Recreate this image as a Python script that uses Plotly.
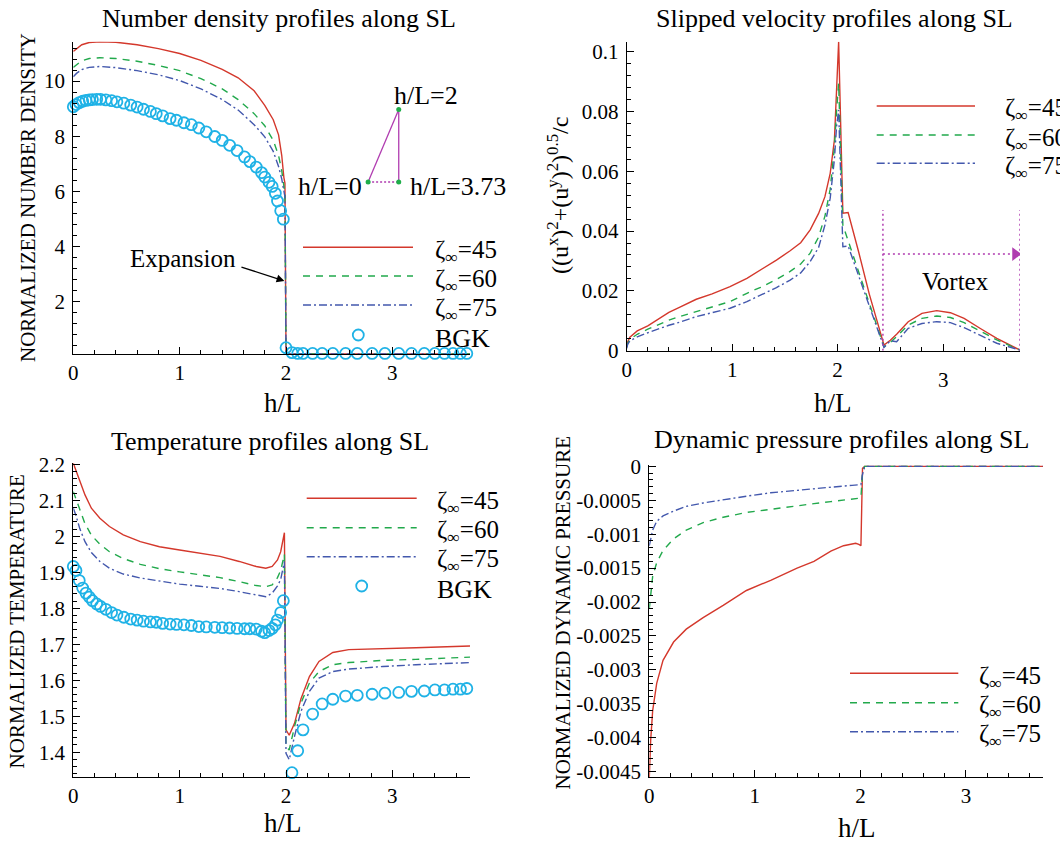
import plotly.graph_objects as go

W, H = 1060, 842
FONT = "Liberation Serif"

RED = "#d4382c"
GREEN = "#22a94c"
BLUE = "#4358ad"
CYAN = "#1fb2e6"
PURPLE = "#b03cb0"
DOT_GREEN = "#1fae4a"

# ---------------- data ----------------
labels = ["45", "60", "75"]

# number density along SL
dens_x = [0, 0.03, 0.08, 0.15, 0.25, 0.4, 0.6, 0.8, 1.0, 1.2, 1.4, 1.55, 1.7, 1.8,
          1.88, 1.93, 1.96, 1.98, 1.99, 2.0, 3.73]
dens_45 = [11.08, 11.17, 11.32, 11.40, 11.43, 11.41, 11.32, 11.18, 11.0, 10.75, 10.43,
           10.12, 9.65, 9.12, 8.6, 8.05, 7.3, 6.5, 6.3, 0.1, 0.1]
dens_60 = [10.5, 10.6, 10.74, 10.82, 10.85, 10.82, 10.72, 10.57, 10.38, 10.09, 9.72,
           9.33, 8.82, 8.38, 7.85, 7.3, 6.75, 6.2, 5.9, 0.1, 0.1]
dens_75 = [10.16, 10.28, 10.42, 10.5, 10.53, 10.49, 10.38, 10.23, 10.02, 9.72, 9.33,
           8.95, 8.42, 7.98, 7.45, 6.9, 6.45, 6.05, 5.8, 0.1, 0.1]

# BGK reference points (shared abscissae for density and temperature)
bgk_x = [0, 0.025, 0.056, 0.088, 0.119, 0.15, 0.18, 0.22, 0.256, 0.306, 0.36, 0.41,
         0.475, 0.54, 0.60, 0.66, 0.725, 0.78, 0.84, 0.91, 0.97, 1.04, 1.11, 1.18, 1.25,
         1.33, 1.40, 1.47, 1.54, 1.61, 1.66, 1.72, 1.77, 1.80, 1.84, 1.87, 1.90, 1.92,
         1.95, 1.975, 2.0, 2.056, 2.11, 2.16, 2.25, 2.34, 2.44, 2.56, 2.67, 2.81, 2.93,
         3.06, 3.18, 3.30, 3.40, 3.49, 3.57, 3.64, 3.70]
bgk_dens = [9.07, 9.15, 9.22, 9.27, 9.30, 9.32, 9.33, 9.34, 9.34, 9.32, 9.29, 9.25,
            9.20, 9.13, 9.06, 8.98, 8.90, 8.82, 8.74, 8.64, 8.58, 8.49, 8.42, 8.30, 8.16,
            7.99, 7.85, 7.67, 7.48, 7.25, 7.08, 6.88, 6.68, 6.52, 6.33, 6.18, 5.93, 5.65,
            5.3, 4.99, 0.33, 0.15, 0.12, 0.12, 0.12, 0.12, 0.12, 0.12, 0.12, 0.12, 0.12,
            0.12, 0.12, 0.12, 0.12, 0.12, 0.12, 0.12, 0.12]
bgk_temp = [1.916, 1.905, 1.877, 1.856, 1.842, 1.831, 1.821, 1.812, 1.805, 1.797, 1.788,
            1.781, 1.775, 1.770, 1.767, 1.764, 1.762, 1.761, 1.758, 1.756, 1.755, 1.754,
            1.752, 1.749, 1.748, 1.747, 1.746, 1.745, 1.744, 1.743, 1.743, 1.742, 1.736,
            1.732, 1.738, 1.744, 1.754, 1.767, 1.788, 1.821, 1.33, 1.343, 1.404, 1.462,
            1.506, 1.534, 1.547, 1.556, 1.558, 1.561, 1.564, 1.566, 1.569, 1.570, 1.573,
            1.573, 1.575, 1.575, 1.577]

# slip velocity magnitude along SL
vel_x = [0, 0.01, 0.03, 0.1, 0.2, 0.3, 0.4, 0.5, 0.66, 0.81, 0.98, 1.14, 1.27, 1.42,
         1.55, 1.65, 1.74, 1.82, 1.88, 1.93, 1.97, 1.99, 2.01, 2.05, 2.1, 2.2, 2.3, 2.44,
         2.5, 2.56, 2.67, 2.8, 2.94, 3.07, 3.2, 3.35, 3.51, 3.73]
vel_45 = [0.0015, 0.003, 0.0045, 0.0066, 0.0083, 0.0105, 0.0128, 0.0145, 0.0172, 0.019,
          0.0214, 0.0242, 0.027, 0.0303, 0.0334, 0.0361, 0.0404, 0.0459, 0.0515, 0.0593,
          0.0705, 0.085, 0.1033, 0.046, 0.0462, 0.033, 0.019, 0.0019, 0.0035, 0.0055,
          0.0097, 0.0125, 0.0134, 0.0127, 0.0108, 0.0075, 0.0041, 0.0002]
vel_60 = [0.0012, 0.0025, 0.0038, 0.0055, 0.0072, 0.0088, 0.0102, 0.0114, 0.013, 0.0147,
          0.0164, 0.0192, 0.0212, 0.0238, 0.0265, 0.029, 0.0326, 0.038, 0.045, 0.054,
          0.068, 0.08, 0.0894, 0.042, 0.0368, 0.0264, 0.016, 0.0013, 0.0028, 0.0047,
          0.0086, 0.0108, 0.0116, 0.0111, 0.0094, 0.0066, 0.0036, 0.0002]
vel_75 = [0.0008, 0.0022, 0.0033, 0.0046, 0.006, 0.0073, 0.0085, 0.0095, 0.0114, 0.0127,
          0.0142, 0.0164, 0.0186, 0.0211, 0.0236, 0.026, 0.0298, 0.0345, 0.042, 0.051,
          0.064, 0.0749, 0.0805, 0.0348, 0.035, 0.025, 0.015, 0.0011, 0.0033, 0.003,
          0.0075, 0.0091, 0.0097, 0.0094, 0.0077, 0.0052, 0.0025, 0.0002]

# temperature along SL
temp_x = [0, 0.025, 0.06, 0.11, 0.17, 0.25, 0.34, 0.47, 0.63, 0.81, 1.0, 1.19, 1.38,
          1.56, 1.72, 1.81, 1.87, 1.92, 1.95, 1.985, 2.0, 2.03, 2.08, 2.14, 2.22, 2.31,
          2.44, 2.59, 2.91, 3.22, 3.73]
temp_45 = [2.203, 2.184, 2.152, 2.115, 2.078, 2.05, 2.027, 2.004, 1.985, 1.971, 1.962,
           1.953, 1.944, 1.93, 1.916, 1.911, 1.916, 1.934, 1.957, 2.01, 1.462, 1.447,
           1.48, 1.548, 1.61, 1.652, 1.677, 1.685, 1.687, 1.690, 1.695]
temp_60 = [2.124, 2.104, 2.072, 2.035, 2.003, 1.978, 1.957, 1.938, 1.922, 1.91, 1.901,
           1.893, 1.885, 1.874, 1.863, 1.86, 1.865, 1.885, 1.905, 1.95, 1.416, 1.406,
           1.471, 1.536, 1.592, 1.624, 1.643, 1.649, 1.655, 1.658, 1.664]
temp_75 = [2.078, 2.058, 2.022, 1.985, 1.955, 1.93, 1.911, 1.895, 1.884, 1.875, 1.867,
           1.861, 1.855, 1.846, 1.836, 1.832, 1.842, 1.862, 1.88, 1.93, 1.397, 1.379,
           1.444, 1.513, 1.569, 1.606, 1.624, 1.631, 1.638, 1.643, 1.649]

# dynamic pressure along SL
pres_x = [0, 0.013, 0.032, 0.07, 0.13, 0.23, 0.35, 0.51, 0.7, 0.92, 1.15, 1.4, 1.56,
          1.72, 1.84, 1.92, 1.955, 1.985, 2.005, 2.02, 2.04, 3.73]
pres_45 = [-0.00458, -0.00404, -0.0036, -0.0032, -0.00286, -0.00259, -0.0024, -0.00223,
           -0.00205, -0.00183, -0.00168, -0.0015, -0.0014, -0.00125, -0.00117, -0.00114,
           -0.001134, -0.00115, -0.00117, -0.00003, 0, 0]
pres_60 = [-0.0021, -0.00185, -0.00162, -0.00142, -0.00124, -0.00107, -0.00094, -0.00083,
           -0.00075, -0.00068, -0.00063, -0.00058, -0.00055, -0.00052, -0.0005, -0.00048,
           -0.00047, -0.00047, -0.00046, -0.0001, 0, 0]
pres_75 = [-0.00117, -0.00105, -0.00094, -0.00081, -0.00073, -0.00066, -0.00059, -0.00054,
           -0.00049, -0.00044, -0.00039, -0.00035, -0.00033, -0.0003, -0.00029, -0.00028,
           -0.00028, -0.00027, -0.00027, -0.00012, 0, 0]

# tick labels
x_ticks = [0, 1, 2, 3]
dens_ticks = [2, 4, 6, 8, 10]
vel_ticks = [0, 0.02, 0.04, 0.06, 0.08, 0.1]
vel_tick_text = ["0", "0.02", "0.04", "0.06", "0.08", "0.1"]
temp_ticks = [1.4, 1.5, 1.6, 1.7, 1.8, 1.9, 2.0, 2.1, 2.2]
temp_tick_text = ["1.4", "1.5", "1.6", "1.7", "1.8", "1.9", "2", "2.1", "2.2"]
pres_ticks = [0, -0.0005, -0.001, -0.0015, -0.002, -0.0025, -0.003, -0.0035, -0.004, -0.0045]
pres_tick_text = ["0", "-0.0005", "-0.001", "-0.0015", "-0.002", "-0.0025", "-0.003",
                  "-0.0035", "-0.004", "-0.0045"]

# sketch of the SL path (h/L = 0 -> 2 -> 3.73)
sketch_x = [2.772, 3.06, 3.06]
sketch_y = [6.34, 8.97, 6.34]

# ---------------- helpers ----------------
def xp(p):
    return p / W


def yp(p):
    return 1 - p / H


STYLES = [dict(color=RED, width=1.4, dash="solid"),
          dict(color=GREEN, width=1.4, dash="7px,6px"),
          dict(color=BLUE, width=1.4, dash="8px,3px,2px,3px")]

tick_font = dict(family=FONT, size=21, color="black")


def base_axis(**kw):
    d = dict(showline=True, linecolor="black", linewidth=1, showgrid=False,
             zeroline=False, ticks="inside", ticklen=7, tickwidth=1, tickcolor="black",
             tickfont=tick_font, automargin=False)
    d.update(kw)
    return d


def x_axis(x0, x1, anchor, ticktext=None):
    return base_axis(domain=[xp(x0), xp(x1)], anchor=anchor, range=[0, 3.73],
                     tickvals=x_ticks, ticktext=ticktext or [str(v) for v in x_ticks],
                     minor=dict(ticks="inside", ticklen=4, tickcolor="black",
                                tick0=0, dtick=0.2, showgrid=False))


def y_axis(y_top, y_bot, anchor, rng, vals, text, minor_dtick):
    return base_axis(domain=[yp(y_bot), yp(y_top)], anchor=anchor, range=rng,
                     tickvals=vals, ticktext=text, ticklabelstandoff=3,
                     minor=dict(ticks="inside", ticklen=4, tickcolor="black",
                                tick0=0, dtick=minor_dtick, showgrid=False))


fig = go.Figure()

panels = [
    ("x", "y", dens_x, [dens_45, dens_60, dens_75]),
    ("x2", "y2", vel_x, [vel_45, vel_60, vel_75]),
    ("x3", "y3", temp_x, [temp_45, temp_60, temp_75]),
    ("x4", "y4", pres_x, [pres_45, pres_60, pres_75]),
]
for xa, ya, xs, series in panels:
    for ys, st in zip(series, STYLES):
        fig.add_trace(go.Scatter(x=xs, y=ys, mode="lines", line=st, xaxis=xa, yaxis=ya,
                                 showlegend=False, hoverinfo="skip"))

bgk_marker = dict(symbol="circle-open", size=11, color=CYAN, line=dict(width=1.8, color=CYAN))
fig.add_trace(go.Scatter(x=bgk_x, y=bgk_dens, mode="markers", marker=bgk_marker,
                         xaxis="x", yaxis="y", showlegend=False, hoverinfo="skip",
                         cliponaxis=False))
fig.add_trace(go.Scatter(x=bgk_x, y=bgk_temp, mode="markers", marker=bgk_marker,
                         xaxis="x3", yaxis="y3", showlegend=False, hoverinfo="skip",
                         cliponaxis=False))

# vertices of the SL sketch
fig.add_trace(go.Scatter(x=sketch_x, y=sketch_y, mode="markers",
                         marker=dict(size=5, color=DOT_GREEN), xaxis="x", yaxis="y",
                         showlegend=False, hoverinfo="skip"))
# arrow head of the vortex span
fig.add_trace(go.Scatter(x=[3.685], y=[0.0323], mode="markers",
                         marker=dict(symbol="triangle-right", size=12, color=PURPLE),
                         xaxis="x2", yaxis="y2", showlegend=False, hoverinfo="skip"))

shapes = []
annotations = []


def text(x, y, s, size=24, xref="paper", yref="paper", xanchor="center", angle=0,
         yanchor="middle"):
    annotations.append(dict(x=x, y=y, xref=xref, yref=yref, text=s, showarrow=False,
                            xanchor=xanchor, yanchor=yanchor, textangle=angle,
                            font=dict(family=FONT, size=size, color="black")))


# titles
text(xp(279), yp(18.5), "Number density profiles along SL", size=26)
text(xp(834), yp(18.5), "Slipped velocity profiles along SL", size=26)
text(xp(270), yp(441.5), "Temperature profiles along SL", size=26)
text(xp(841.5), yp(440), "Dynamic pressure profiles along SL", size=26)

# axis titles
for cx, cy in [(283.3, 403.3), (833.3, 403.3), (283.3, 823.3), (856.7, 827.5)]:
    text(xp(cx), yp(cy), "h/L", size=27)
text(xp(27.5), yp(197.5), "NORMALIZED NUMBER DENSITY", size=21, angle=-90)
text(xp(558), yp(196), "((u<sup>x</sup>)<sup>2</sup>+(u<sup>y</sup>)<sup>2</sup>)<sup>0.5</sup>/c",
     size=24, angle=-90)
text(xp(16.7), yp(621.7), "NORMALIZED TEMPERATURE", size=21, angle=-90)
text(xp(562.5), yp(613), "NORMALIZED DYNAMIC PRESSURE", size=21, angle=-90)

# lowered tick label "3" of the velocity panel
text(3, yp(380), "3", size=21, xref="x2")

# legends drawn as sample lines + labels
def legend(x0, x1, ys, tx, bgk=None):
    for yy, st, lab in zip(ys, STYLES, labels):
        shapes.append(dict(type="line", xref="paper", yref="paper", x0=xp(x0), x1=xp(x1),
                           y0=yp(yy), y1=yp(yy),
                           line=dict(color=st["color"], width=1.4, dash=st["dash"])))
        text(xp(tx), yp(yy + 4), "\u03b6<sub>\u221e</sub>=" + lab, size=25, xanchor="left")
    if bgk:
        cx, cy = bgk
        shapes.append(dict(type="circle", xref="paper", yref="paper",
                           x0=xp(cx - 5.5), x1=xp(cx + 5.5), y0=yp(cy - 5.5), y1=yp(cy + 5.5),
                           line=dict(color=CYAN, width=1.8)))
        text(xp(tx), yp(cy + 3), "BGK", size=26, xanchor="left")


legend(303, 413, [247.3, 276, 305], 433, bgk=(358.3, 335))
legend(876.7, 975, [106, 135, 163.3], 1003)
legend(306.7, 416.7, [498.3, 527.7, 556.7], 435, bgk=(361.7, 586))
legend(850, 958.3, [673.3, 702.7, 731.7], 976.7)

# SL sketch
for (xa0, ya0, xa1, ya1, dash) in [(sketch_x[0], sketch_y[0], sketch_x[1], sketch_y[1], "solid"),
                                   (sketch_x[1], sketch_y[1], sketch_x[2], sketch_y[2], "solid"),
                                   (sketch_x[0], sketch_y[0], sketch_x[2], sketch_y[2], "2px,2px")]:
    shapes.append(dict(type="line", xref="x", yref="y", x0=xa0, y0=ya0, x1=xa1, y1=ya1,
                       line=dict(color=PURPLE, width=1.3, dash=dash), layer="below"))
text(3.32, 9.49, "h/L=2", size=26, xref="x", yref="y")
text(2.73, 6.17, "h/L=0", size=26, xref="x", yref="y", xanchor="right")
text(3.146, 6.17, "h/L=3.73", size=26, xref="x", yref="y", xanchor="left")

# expansion pointer
text(1.03, 3.57, "Expansion", size=25, xref="x", yref="y")
annotations.append(dict(x=1.985, y=2.75, xref="x", yref="y", ax=1.567, ay=3.27,
                        axref="x", ayref="y", text="", showarrow=True, arrowhead=2,
                        arrowsize=1.2, arrowwidth=1.3, arrowcolor="black"))

# vortex span
for vx in [2.43, 3.73]:
    shapes.append(dict(type="line", xref="x2", yref="y2", x0=vx, x1=vx, y0=0, y1=0.047,
                       line=dict(color=PURPLE, width=1.5, dash="2px,3px")))
shapes.append(dict(type="line", xref="x2", yref="y2", x0=2.43, x1=3.66, y0=0.0323, y1=0.0323,
                   line=dict(color=PURPLE, width=1.5, dash="2px,3px")))
text(3.12, 0.023, "Vortex", size=25, xref="x2", yref="y2")

fig.update_layout(
    width=W, height=H, autosize=False,
    margin=dict(l=0, r=0, t=0, b=0, pad=0, autoexpand=False),
    paper_bgcolor="white", plot_bgcolor="white", showlegend=False,
    font=dict(family=FONT, color="black"),
    xaxis=x_axis(73.3, 470, "y"),
    yaxis=y_axis(41.7, 354, "x", [0.1, 11.43], dens_ticks, [str(v) for v in dens_ticks], 0.4),
    xaxis2=x_axis(626.7, 1020, "y2", ticktext=["0", "1", "2", ""]),
    yaxis2=y_axis(41.7, 350.7, "x2", [0, 0.1033], vel_ticks, vel_tick_text, 0.004),
    xaxis3=x_axis(73.3, 470, "y3"),
    yaxis3=y_axis(463, 777, "x3", [1.331, 2.2036], temp_ticks, temp_tick_text, 0.02),
    xaxis4=x_axis(649.3, 1043, "y4"),
    yaxis4=y_axis(465, 777, "x4", [-0.00458, 0.00002], pres_ticks, pres_tick_text, 0.0001),
    shapes=shapes, annotations=annotations,
)

fig.write_html("out.html")
